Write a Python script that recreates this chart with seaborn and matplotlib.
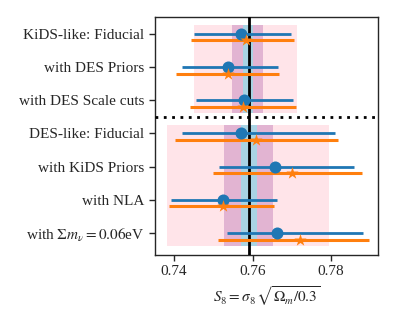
import matplotlib
matplotlib.use("Agg")
import matplotlib.pyplot as plt
import numpy as np
import pandas as pd
import seaborn as sns

sns.set_style("ticks")
plt.rcParams.update({
    "font.family": ["Liberation Serif", "DejaVu Serif"],
    "mathtext.fontset": "stix",
    "font.size": 11,
    "axes.linewidth": 1.0,
})

labels = [
    "KiDS-like: Fiducial",
    "with DES Priors",
    "with DES Scale cuts",
    "DES-like: Fiducial",
    "with KiDS Priors",
    "with NLA",
    r"with $\Sigma m_\nu = 0.06$eV",
]

# blue (circle) series: best fit and 68% interval
blue_mid = [0.7570, 0.7537, 0.7577, 0.7571, 0.7656, 0.7524, 0.7662]
blue_lo = [0.7450, 0.7420, 0.7457, 0.7420, 0.7515, 0.7393, 0.7535]
blue_hi = [0.7697, 0.7665, 0.7703, 0.7811, 0.7859, 0.7662, 0.7881]

# orange (star) series
orange_mid = [0.7583, 0.7537, 0.7575, 0.7610, 0.7701, 0.7525, 0.7722]
orange_lo = [0.7443, 0.7404, 0.7441, 0.7403, 0.7498, 0.7387, 0.7512]
orange_hi = [0.7706, 0.7667, 0.7712, 0.7817, 0.7880, 0.7655, 0.7896]

# reference bands for each group (KiDS-like, DES-like)
band_rows = [(0, 2), (3, 6)]
pink_band = [(0.7450, 0.7713), (0.7382, 0.7795)]
purple_band = [(0.7547, 0.7627), (0.7527, 0.7652)]
blue_band = [(0.7576, 0.7602), (0.7570, 0.7611)]

s8_ref = 0.7591

df = pd.DataFrame({
    "row": np.arange(len(labels)),
    "blue": blue_mid, "blue_lo": blue_lo, "blue_hi": blue_hi,
    "orange": orange_mid, "orange_lo": orange_lo, "orange_hi": orange_hi,
})

fig = plt.figure(figsize=(3.98, 3.19), dpi=100)
ax = fig.add_axes([0.389, 0.2006, 0.561, 0.746])

for (r0, r1), pk, pu, bl in zip(band_rows, pink_band, purple_band, blue_band):
    yy = [r0 - 0.25, r1 + 0.4]
    ax.fill_betweenx(yy, *pk, color="#ffe4e9", lw=0, zorder=0)
    ax.fill_betweenx(yy, *pu, color="#e2b4d2", lw=0, zorder=1)
    ax.fill_betweenx(yy, *bl, color="#a9d3e3", lw=0, zorder=2)

ax.axvline(s8_ref, color="black", lw=2, zorder=3)
ax.axhline(2.5, color="black", lw=2, ls=(0, (1, 2)), zorder=3)

ax.hlines(df["row"], df["blue_lo"], df["blue_hi"], color="#1f77b4", lw=2, zorder=4)
ax.hlines(df["row"] + 0.2, df["orange_lo"], df["orange_hi"], color="#ff7f0e", lw=2.2, zorder=4)
sns.scatterplot(x=df["blue"], y=df["row"], ax=ax, color="#1f77b4", marker="o",
                s=75, linewidth=0, zorder=5)
sns.scatterplot(x=df["orange"], y=df["row"] + 0.2, ax=ax, color="#ff7f0e", marker="*",
                s=85, linewidth=0, zorder=5)

ax.set_yticks(df["row"])
ax.set_yticklabels(labels)
ax.set_ylim(6.66, -0.5)
ax.set_xlim(0.7351, 0.792)
ax.set_xticks([0.74, 0.76, 0.78])
ax.set_xticklabels(["0.74", "0.76", "0.78"])
ax.set_xlabel(r"$S_8 = \sigma_8\,\sqrt{\Omega_m/0.3}$")
ax.set_ylabel("")
ax.tick_params(direction="out", length=4, width=1, labelsize=11)

fig.savefig("out.png", dpi=100)
